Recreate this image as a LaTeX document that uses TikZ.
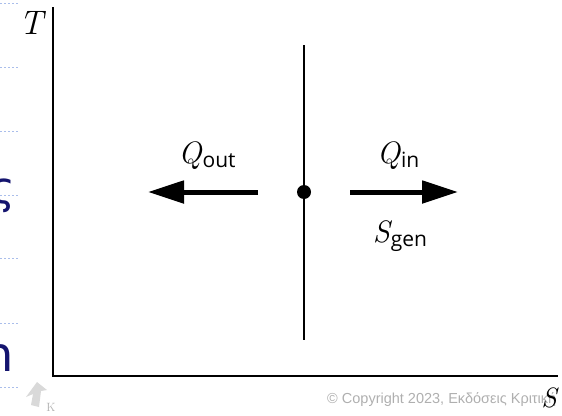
\documentclass[tikz,border=0pt]{standalone}
\usepackage{fontspec}
\setsansfont{Open Sans}
\newfontfamily\cpfont{Liberation Sans}
\newfontfamily\grkfont{DejaVu Sans}
\usetikzlibrary{arrows.meta}
\definecolor{navy}{RGB}{20,20,110}
\definecolor{guide}{RGB}{170,190,235}
\definecolor{cpgray}{RGB}{175,175,175}
\tikzset{
  axis/.style={line width=2.6pt, line cap=butt},
  wall/.style={line width=2pt},
  flow/.style={line width=5pt, -{Triangle[length=36pt,width=22pt]}},
  lbl/.style={inner sep=0pt, anchor=base},
  guideline/.style={guide, line width=0.6pt, dash pattern=on 2pt off 2pt},
}
\newcommand{\symQ}[1]{{\fontsize{31}{31}\selectfont\itshape Q}\kern1pt\raisebox{-4pt}{\fontsize{21}{21}\sffamily #1}}
\begin{document}
\begin{tikzpicture}[x=1pt,y=-1pt]
\useasboundingbox (0,0) rectangle (562,415);
% slide guide lines
\foreach \yy in {3,67,131,195,258,323,387}
  \draw[guideline] (0,\yy) -- (18,\yy);
% cropped slide text
\node[inner sep=0pt, anchor=base east, text=navy] (sig) at (16,203) {\grkfont\fontsize{44}{44}\selectfont ς};
\node[inner sep=0pt, anchor=base east, text=navy] (nn) at (14,371) {\grkfont\fontsize{48}{48}\selectfont n};
% axes
\coordinate (O) at (53,376);
\coordinate (Ttop) at (53,7);
\coordinate (Send) at (558,376);
\draw[axis] (Ttop) -- (O) -- (Send);
\node[lbl] (T) at (31,34) {\fontsize{34}{34}\selectfont\itshape T};
% copyright
\node[inner sep=0pt, anchor=base west, text=cpgray] (cp) at (327,403) {\cpfont\fontsize{14.5}{14.5}\selectfont © Copyright 2023, Εκδόσεις Κριτική};
\node[lbl] (S) at (549,407) {\fontsize{28}{28}\selectfont\itshape S};
% logo
\fill[gray!30] (37,382) -- (47,390) -- (41,391) -- (39,407) -- (31,405) -- (33,394) -- (26,397) -- cycle;
\node[inner sep=0pt, anchor=base, text=gray!60] (K) at (51,411) {\fontsize{12}{12}\selectfont K};
% wall and state point
\coordinate (wtop) at (304,45);
\coordinate (wbot) at (304,340);
\draw[wall] (wtop) -- (wbot);
\node[circle, fill=black, inner sep=0pt, minimum size=14pt] (dot) at (304,192) {};
% flows
\coordinate (lo1) at (258,192);
\coordinate (lo2) at (148,192);
\coordinate (ri1) at (350,192);
\coordinate (ri2) at (458,192);
\draw[flow] (lo1) -- (lo2);
\draw[flow] (ri1) -- (ri2);
\node[lbl] (Qout) at (207,163) {\symQ{out}};
\node[lbl] (Qin) at (398,163) {\symQ{in}};
\node[lbl] (Sgen) at (400,242) {{\fontsize{31}{31}\selectfont\itshape S}\kern1pt\raisebox{-4pt}{\fontsize{21}{21}\sffamily gen}};
\end{tikzpicture}
\end{document}
